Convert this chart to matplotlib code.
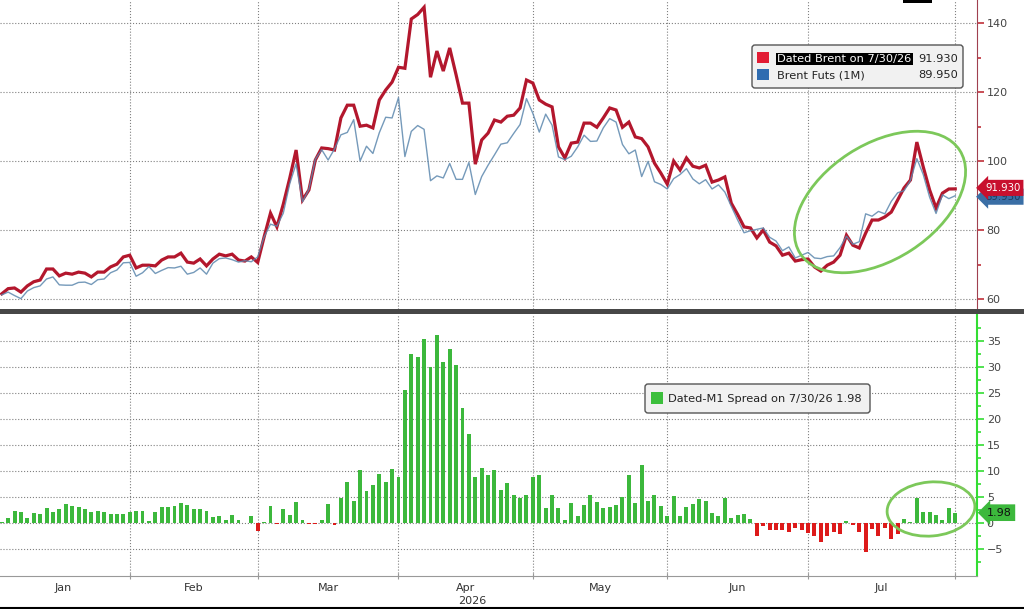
import matplotlib
matplotlib.use('Agg')
import matplotlib.pyplot as plt
from matplotlib.patches import Ellipse, FancyBboxPatch, Rectangle
from matplotlib.lines import Line2D
from matplotlib.transforms import blended_transform_factory
import numpy as np

# daily closes, 2 Jan -> 30 Jul 2026
dated = [
    61.5, 63.0, 63.2, 62.0, 63.8, 65.0, 65.5, 68.7, 68.7, 66.7,
    67.5, 67.2, 67.8, 67.5, 66.4, 67.8, 67.8, 69.3, 70.1, 72.2,
    72.7, 69.0, 69.8, 69.8, 69.6, 71.3, 72.2, 72.2, 73.3, 70.7,
    70.4, 71.6, 69.6, 71.6, 73.0, 72.5, 73.0, 71.3, 71.0, 72.2,
    70.6, 78.0, 84.9, 80.9, 87.5, 95.0, 103.2, 88.7, 91.6, 100.3,
    103.8, 103.6, 103.2, 112.5, 116.2, 116.2, 110.1, 110.4, 109.6, 117.7,
    120.6, 122.9, 127.2, 126.9, 141.2, 142.5, 144.6, 124.3, 131.9, 126.1,
    132.8, 125.0, 116.8, 116.8, 99.1, 106.1, 108.1, 111.9, 111.3, 113.0,
    113.3, 115.4, 123.5, 122.6, 117.7, 116.5, 115.7, 104.1, 100.9, 105.2,
    105.5, 111.0, 111.0, 109.8, 112.5, 115.4, 114.8, 109.8, 111.3, 107.0,
    106.5, 104.1, 99.4, 96.5, 93.3, 100.0, 97.4, 100.9, 98.5, 98.0,
    98.8, 93.9, 94.5, 95.4, 87.8, 84.5, 80.9, 80.6, 77.7, 80.0,
    76.5, 75.4, 72.7, 73.3, 71.0, 71.4, 71.6, 69.3, 68.1, 69.8,
    70.7, 72.7, 78.5, 75.6, 74.8, 79.1, 82.9, 82.9, 83.8, 85.2,
    88.7, 92.2, 94.5, 105.5, 98.3, 91.6, 86.4, 90.7, 91.9, 91.93,
]
futs = [
    61.2, 62.0, 61.0, 60.1, 62.3, 63.3, 63.8, 65.8, 66.4, 64.1,
    64.0, 64.0, 64.8, 64.9, 64.2, 65.6, 65.8, 67.6, 68.4, 70.5,
    70.6, 66.6, 67.6, 69.4, 67.4, 68.3, 69.1, 69.0, 69.5, 67.2,
    67.7, 69.0, 67.2, 70.4, 71.7, 71.9, 71.4, 70.7, 71.1, 70.8,
    72.2, 78.0, 81.7, 81.1, 84.9, 93.4, 99.2, 88.2, 91.8, 100.5,
    103.3, 100.3, 103.5, 107.6, 108.3, 112.0, 100.0, 104.3, 102.2, 108.2,
    112.7, 112.5, 118.4, 101.3, 108.6, 110.3, 109.2, 94.3, 95.7, 95.1,
    99.3, 94.7, 94.7, 99.6, 90.3, 95.5, 98.8, 101.8, 104.9, 105.3,
    108.0, 110.6, 118.1, 113.8, 108.4, 113.6, 110.4, 101.2, 100.4, 101.4,
    104.1, 107.5, 105.7, 105.8, 109.6, 112.3, 111.3, 104.8, 102.1, 103.2,
    95.5, 99.9, 94.0, 93.2, 91.9, 94.9, 96.1, 97.8, 94.8, 93.4,
    94.6, 91.9, 93.1, 91.0, 86.9, 82.9, 79.2, 79.8, 80.2, 80.6,
    77.9, 76.8, 74.0, 75.1, 71.9, 72.7, 73.5, 71.9, 71.7, 72.3,
    72.5, 74.9, 78.2, 75.9, 76.6, 84.7, 84.0, 85.4, 84.7, 88.3,
    90.8, 91.4, 94.4, 100.7, 96.1, 89.5, 84.8, 90.2, 89.1, 89.95,
]
spread = [
    0.1, 1.0, 2.4, 2.1, 1.0, 1.9, 1.8, 2.9, 2.2, 2.6,
    3.7, 3.2, 3.1, 2.6, 2.2, 2.4, 2.2, 1.7, 1.7, 1.7,
    2.2, 2.4, 2.4, 0.4, 2.2, 3.0, 3.1, 3.2, 3.8, 3.5,
    2.7, 2.6, 2.4, 1.2, 1.3, 0.6, 1.6, 0.6, -0.1, 1.4,
    -1.6, 0.1, 3.2, -0.2, 2.6, 1.6, 4.0, 0.5, -0.2, -0.2,
    0.5, 3.7, -0.3, 4.9, 7.9, 4.2, 10.1, 6.1, 7.4, 9.5,
    7.9, 10.4, 8.8, 25.6, 32.6, 31.9, 35.4, 30.0, 36.2, 31.0,
    33.5, 30.3, 22.1, 17.2, 8.8, 10.6, 9.3, 10.1, 6.4, 7.7,
    5.3, 4.8, 5.4, 8.8, 9.3, 2.9, 5.3, 2.9, 0.5, 3.8,
    1.4, 3.5, 5.3, 4.0, 2.9, 3.1, 3.5, 5.0, 9.2, 3.8,
    11.2, 4.2, 5.4, 3.3, 1.4, 5.1, 1.3, 3.1, 3.7, 4.6,
    4.2, 2.0, 1.4, 4.8, 0.9, 1.6, 1.7, 0.8, -2.5, -0.6,
    -1.4, -1.4, -1.3, -1.8, -0.9, -1.3, -1.9, -2.6, -3.6, -2.5,
    -1.8, -2.2, 0.3, -0.3, -1.8, -5.6, -1.1, -2.5, -0.9, -3.1,
    -2.1, 0.8, 0.1, 4.8, 2.2, 2.1, 1.6, 0.5, 2.8, 1.98,
]
months = ['Jan', 'Feb', 'Mar', 'Apr', 'May', 'Jun', 'Jul']
month_starts = [20, 40, 62, 83, 104, 126, 149]   # bar index where each new month begins
year_label = '2026'
last_date = '7/30/26'

RED = '#b3172d'
BLUE = '#5d88ae'
GREEN = '#3cb83c'
NEG = '#dd1a1a'

x = np.arange(len(dated))
spread = np.array(spread)
edges = [-0.8] + month_starts
centers = [(a + b) / 2 for a, b in zip(edges[:-1], edges[1:])]

W, H = 1024, 609
def box(l, t, r, b):
    return [l / W, 1 - b / H, (r - l) / W, (b - t) / H]

fig = plt.figure(figsize=(W / 100, H / 100), dpi=100)
fig.patch.set_facecolor('white')

top = fig.add_axes(box(0, 0, 977, 309))
bot = fig.add_axes(box(0, 314, 977, 576))

# --- price panel
top.plot(x, dated, color=RED, lw=2.3, solid_joinstyle='miter', zorder=3)
top.plot(x, futs, color=BLUE, lw=1.0, alpha=0.85, zorder=4)
top.set_xlim(-0.27, 152.4)
top.set_ylim(57.1, 146.7)
top.yaxis.tick_right()
top.set_yticks([60, 80, 100, 120, 140])
top.set_yticks([70, 90, 110, 130], minor=True)
top.set_xticks(month_starts)
top.tick_params(axis='x', length=0, labelbottom=False)
top.tick_params(axis='y', which='both', colors='#c0303a', labelcolor='#444', labelsize=8,
                length=5, width=1.2, pad=2)
top.tick_params(axis='y', which='minor', length=3)
for s in ['left', 'top', 'bottom']:
    top.spines[s].set_visible(False)
top.spines['right'].set_color('#a0404f')
top.grid(True, which='major', ls=':', color='#808080', lw=0.8)

# --- spread panel
bot.bar(x, spread, width=0.62, color=np.where(spread >= 0, GREEN, NEG), zorder=3)
bot.set_xlim(-0.27, 152.4)
bot.set_ylim(-10.2, 40.2)
bot.yaxis.tick_right()
bot.set_yticks(np.arange(-5, 40, 5))
bot.set_yticks(np.arange(-7.5, 40, 2.5), minor=True)
bot.tick_params(axis='y', which='both', colors='#33dd33', labelcolor='#444', labelsize=8,
                length=5, width=1.2, pad=2)
bot.tick_params(axis='y', which='minor', length=3)
bot.set_xticks(month_starts)
bot.set_xticklabels([])
bot.set_xticks(centers, minor=True)
bot.set_xticklabels(months, minor=True)
bot.tick_params(axis='x', which='major', length=4, direction='inout', color='#999')
bot.tick_params(axis='x', which='minor', length=0, pad=5, labelsize=8, labelcolor='#333')
for s in ['left', 'top']:
    bot.spines[s].set_visible(False)
bot.spines['right'].set_color('#33dd33')
bot.spines['right'].set_linewidth(1.5)
bot.spines['bottom'].set_color('#999')
bot.grid(True, which='major', ls=':', color='#808080', lw=0.8)
bot.text(centers[3] + 1, -0.095, year_label, transform=blended_transform_factory(bot.transData, bot.transAxes),
         ha='center', va='center', fontsize=8, color='#333')

# last-value tags on the right axes
tr = blended_transform_factory(top.transAxes, top.transData)
top.annotate(f'{futs[-1]:.3f}', xy=(1, futs[-1]), xycoords=tr, xytext=(8, -1), textcoords='offset pixels',
             va='center', ha='left', fontsize=7.3, color='#1d3c5c', annotation_clip=False,
             bbox=dict(boxstyle='larrow,pad=0.3', fc='#3a6ea5', ec='none'))
top.annotate(f'{dated[-1]:.3f}', xy=(1, dated[-1]), xycoords=tr, xytext=(8, 1), textcoords='offset pixels',
             va='center', ha='left', fontsize=7.3, color='white', annotation_clip=False,
             bbox=dict(boxstyle='larrow,pad=0.3', fc='#c8102e', ec='none'))
trb = blended_transform_factory(bot.transAxes, bot.transData)
bot.annotate(f'{spread[-1]:.2f}', xy=(1, spread[-1]), xycoords=trb, xytext=(10, 0), textcoords='offset pixels',
             va='center', ha='left', fontsize=8, color='#111', annotation_clip=False,
             bbox=dict(boxstyle='larrow,pad=0.3', fc=GREEN, ec='none'))

# overlay in pixel coordinates for legends / annotations
ov = fig.add_axes([0, 0, 1, 1])
ov.set_xlim(0, W)
ov.set_ylim(H, 0)
ov.axis('off')
ov.patch.set_alpha(0)

ov.add_patch(Rectangle((0, 309), W, 5, color='#474747', lw=0))
ov.add_line(Line2D([0, W], [607.5, 607.5], color='black', lw=1.5))
ov.add_patch(Rectangle((903, 0), 29, 3, color='black', lw=0))

ov.add_patch(FancyBboxPatch((752, 45), 211, 43, boxstyle='round,pad=0,rounding_size=3',
                            fc='#f1f1f1', ec='#555555', lw=1))
ov.add_patch(Rectangle((757, 52), 12, 11, color='#e21c34', lw=0))
ov.add_patch(Rectangle((757, 69), 12, 11, color='#2f6cb0', lw=0))
ov.text(777, 59, f'Dated Brent on {last_date}', fontsize=8.2, color='white', va='center',
        bbox=dict(fc='black', ec='none', pad=1))
ov.text(958, 59, f'{dated[-1]:.3f}', fontsize=8.2, color='#222', va='center', ha='right')
ov.text(777, 75, 'Brent Futs (1M)', fontsize=8.2, color='#222', va='center')
ov.text(958, 75, f'{futs[-1]:.3f}', fontsize=8.2, color='#222', va='center', ha='right')

ov.add_patch(FancyBboxPatch((645, 384), 225, 29, boxstyle='round,pad=0,rounding_size=3',
                            fc='#f1f1f1', ec='#555555', lw=1))
ov.add_patch(Rectangle((651, 392), 12, 12, color='#3cbf3c', lw=0))
ov.text(668, 399, f'Dated-M1 Spread on {last_date} {spread[-1]:.2f}', fontsize=8.2, color='#222', va='center')

ov.add_patch(Ellipse((880, 202), 190, 115, angle=-33, fill=False, ec='#7cc85a', lw=2))
ov.add_patch(Ellipse((931, 509), 88, 54, angle=-5, fill=False, ec='#7cc85a', lw=2))

fig.savefig('out.png', dpi=100)
